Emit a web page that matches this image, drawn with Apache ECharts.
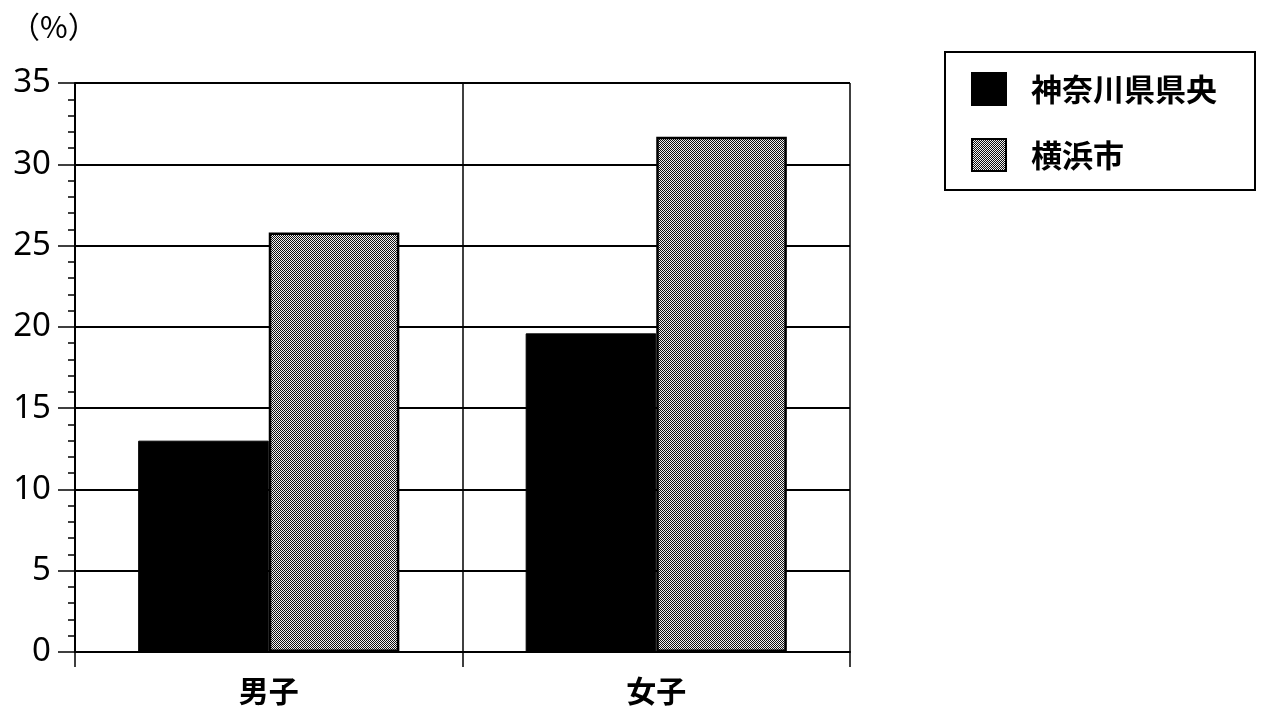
<!DOCTYPE html>
<html>
<head>
<meta charset="utf-8">
<script src="https://cdn.jsdelivr.net/npm/echarts@6/dist/echarts.min.js"></script>
<style>
html,body{margin:0;padding:0;background:#fff;}
#chart{width:1264px;height:712px;}
</style>
</head>
<body>
<div id="chart"></div>
<script>
// データ
var categories = ['男子', '女子'];
var kenouValues = [13.0, 19.6];     // 神奈川県県央
var yokohamaValues = [25.8, 31.7];  // 横浜市
var seriesNames = ['神奈川県県央', '横浜市'];

// 網点パターン
function makeDots() {
  var c = document.createElement('canvas');
  c.width = 4; c.height = 4;
  var ctx = c.getContext('2d');
  ctx.fillStyle = '#f2f2f2';
  ctx.fillRect(0, 0, 4, 4);
  ctx.fillStyle = '#111';
  for (var y = 0; y < 4; y++) {
    for (var x = 0; x < 4; x++) {
      if ((x + y) % 2 == 0) ctx.fillRect(x, y, 1, 1);
    }
  }
  return c;
}
var dots = { image: makeDots(), repeat: 'repeat' };

var font = '"Noto Sans CJK JP", "Noto Sans", sans-serif';
var myChart = echarts.init(document.getElementById('chart'));
var option = {
  backgroundColor: '#fff',
  animation: false,
  graphic: [{
    type: 'text',
    left: 10, top: 12,
    style: { text: '（%）', fontFamily: font, fontSize: 30, fill: '#000' }
  }],
  legend: {
    orient: 'vertical',
    left: 945, top: 52,
    width: 308,
    padding: [20, 38, 18, 26],
    itemGap: 32,
    itemWidth: 34, itemHeight: 32,
    borderColor: '#000', borderWidth: 2, borderRadius: 0,
    icon: 'rect',
    textStyle: { fontFamily: font, fontSize: 31, fontWeight: 'bold', color: '#000', padding: [0, 0, 0, 20] },
    data: seriesNames
  },
  grid: { left: 75, right: 414, top: 83, bottom: 60 },
  xAxis: {
    type: 'category',
    data: categories,
    axisLine: { lineStyle: { color: '#000', width: 2 } },
    axisTick: { show: true, alignWithLabel: false, length: 15, lineStyle: { color: '#000', width: 1.5 } },
    axisLabel: { fontFamily: font, fontSize: 30, fontWeight: 'bold', color: '#000', margin: 24 },
    splitLine: { show: true, lineStyle: { color: '#000', width: 1.5 } }
  },
  yAxis: {
    type: 'value',
    min: 0, max: 35, interval: 5,
    axisLine: { show: true, lineStyle: { color: '#000', width: 2 } },
    axisTick: { show: true, length: 17, lineStyle: { color: '#000', width: 1.5 } },
    minorTick: { show: true, splitNumber: 5, length: 7, lineStyle: { color: '#000', width: 1.5 } },
    axisLabel: { fontFamily: '"Noto Sans", sans-serif', fontSize: 33, color: '#000', margin: 24 },
    splitLine: { show: true, lineStyle: { color: '#000', width: 2 } }
  },
  series: [
    {
      name: seriesNames[0],
      type: 'bar',
      data: kenouValues,
      barWidth: '33.7%',
      barGap: '0%',
      itemStyle: { color: '#000', borderColor: '#000', borderWidth: 1 }
    },
    {
      name: seriesNames[1],
      type: 'bar',
      data: yokohamaValues,
      barWidth: '33.7%',
      itemStyle: { color: dots, borderColor: '#000', borderWidth: 2.5 }
    }
  ]
};
myChart.setOption(option, true);
</script>
</body>
</html>
